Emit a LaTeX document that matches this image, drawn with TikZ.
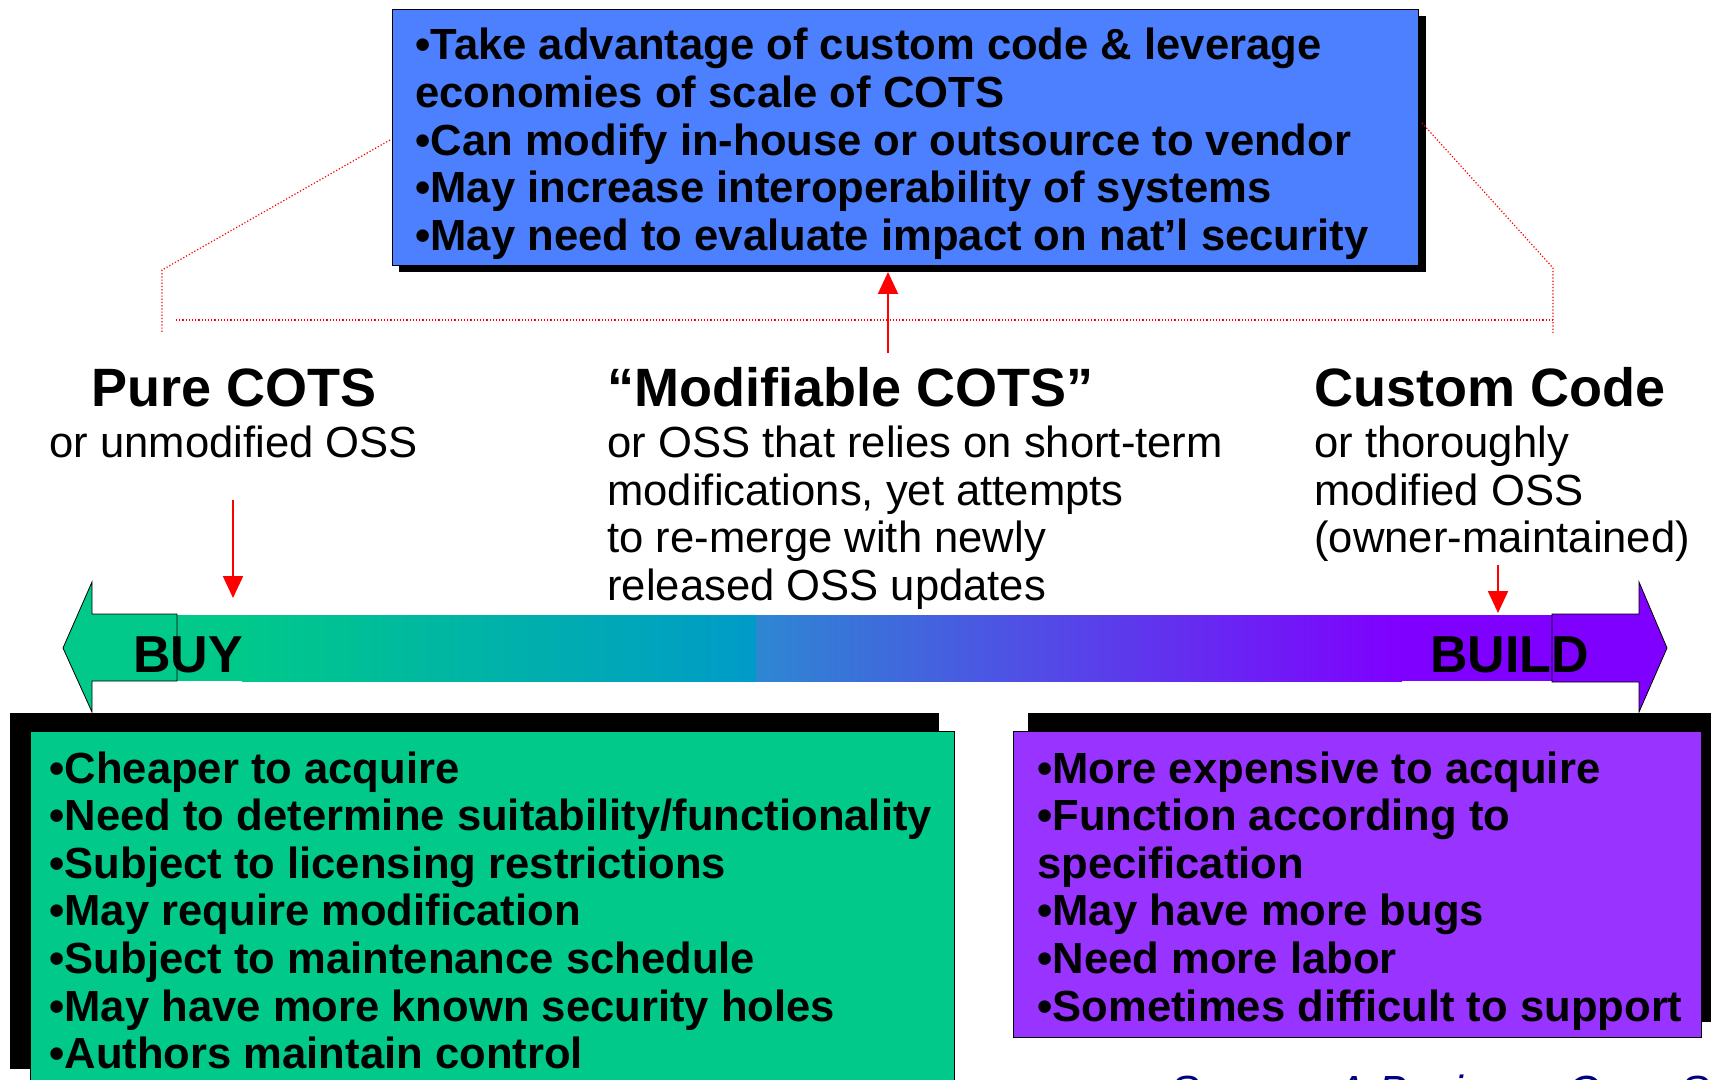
\documentclass[tikz,border=0pt]{standalone}
\usepackage{fontspec}
\setmainfont{Liberation Sans}
\usetikzlibrary{arrows.meta,positioning}

\definecolor{buygreen}{RGB}{0,201,138}
\definecolor{barteal}{RGB}{0,155,200}
\definecolor{barblue}{RGB}{45,135,210}
\definecolor{buildviolet}{RGB}{128,0,255}
\definecolor{buildpurple}{RGB}{153,51,255}
\definecolor{mixblue}{RGB}{77,128,255}
\definecolor{srcblue}{RGB}{0,0,128}

\begin{document}
\begin{tikzpicture}[x=0.5pt,y=-0.5pt,
  every node/.style={inner sep=0pt},
  listtext/.style={anchor=north west,align=left,font=\fontsize{21.8}{23.8}\selectfont\bfseries},
  headtext/.style={anchor=base west,font=\fontsize{27}{30}\selectfont\bfseries},
  subtext/.style={anchor=north west,align=left,font=\fontsize{21.8}{23.7}\selectfont},
  endtext/.style={anchor=base west,font=\fontsize{26}{28}\selectfont\bfseries},
  redarrow/.style={red,line width=1pt,-{Triangle[width=10pt,length=11pt]}},
  reddots/.style={red,line width=0.6pt,densely dotted}]
  \clip (0,0) rectangle (1711,1080);

  % mixed box on top
  \fill (399,16) rectangle (1426,272);
  \node[draw,fill=mixblue,minimum width=513pt,minimum height=128pt] (mix) at (905,137) {};
  \node[listtext] (mixlist) at (415,28) {•Take advantage of custom code \& leverage\\economies of scale of COTS\\•Can modify in-house or outsource to vendor\\•May increase interoperability of systems\\•May need to evaluate impact on nat’l security};

  % dotted bracket
  \coordinate (ltop) at (390,140);
  \coordinate (lknee) at (162,270);
  \coordinate (lfoot) at (162,333);
  \coordinate (rtop) at (1422,123);
  \coordinate (rknee) at (1553,268);
  \coordinate (rfoot) at (1553,333);
  \coordinate (hleft) at (176,320);
  \coordinate (hright) at (1553,320);
  \draw[reddots] (ltop) -- (lknee) -- (lfoot);
  \draw[reddots] (rtop) -- (rknee) -- (rfoot);
  \draw[reddots] (hleft) -- (hright);

  % three choices
  \node[headtext] (pure) at (91,406) {Pure COTS};
  \node[subtext] (puresub) at (49,426) {or unmodified OSS};
  \node[headtext] (modcots) at (607,406) {“Modifiable COTS”};
  \node[subtext] (modsub) at (607,426) {or OSS that relies on short-term\\modifications, yet attempts\\to re-merge with newly\\released OSS updates};
  \node[headtext] (custom) at (1314,406) {Custom Code};
  \node[subtext] (customsub) at (1314,426) {or thoroughly\\modified OSS\\(owner-maintained)};

  % scale bar
  \fill[buygreen] (92,615) rectangle (242,681);
  \shade[left color=buygreen,right color=barteal] (242,615) rectangle (756,681);
  \shade[left color=barblue,right color=buildviolet] (756,615) rectangle (1402,681);
  \fill[buildviolet] (1402,615) rectangle (1639,681);
  \draw[fill=buygreen] (92,582) -- (63,648) -- (92,712) -- (92,681) -- (177,681) -- (177,614) -- (92,614) -- cycle;
  \draw[fill=buildviolet] (1552,614) -- (1639,614) -- (1639,582) -- (1667,648) -- (1639,712) -- (1639,682) -- (1552,682) -- cycle;
  \node[endtext] (buy) at (133,672) {BUY};
  \node[endtext] (build) at (1430,672) {BUILD};

  % red arrows
  \coordinate (midfoot) at (888,353);
  \coordinate (midtip) at (888,272);
  \coordinate (purefoot) at (233,500);
  \coordinate (puretip) at (233,598);
  \coordinate (customfoot) at (1498,565);
  \coordinate (customtip) at (1498,613);
  \draw[redarrow] (midfoot) -- (midtip);
  \draw[redarrow] (purefoot) -- (puretip);
  \draw[redarrow] (customfoot) -- (customtip);

  % buy and build boxes
  \fill (10,713) rectangle (939,1069);
  \draw[fill=buygreen] (30,731) rectangle (954,1095);
  \fill (1028,713) rectangle (1725,1022);
  \draw[fill=buildpurple] (1013,731) rectangle (1701,1037);
  \node[listtext] (buylist) at (49,751) {•Cheaper to acquire\\•Need to determine suitability/functionality\\•Subject to licensing restrictions\\•May require modification\\•Subject to maintenance schedule\\•May have more known security holes\\•Authors maintain control};
  \node[listtext] (buildlist) at (1037,751) {•More expensive to acquire\\•Function according to\\specification\\•May have more bugs\\•Need more labor\\•Sometimes difficult to support};

  \node[anchor=base west,font=\fontsize{21.8}{24}\selectfont\itshape,text=srcblue] (source) at (1170,1106) {Source: A Business Case Study};
\end{tikzpicture}
\end{document}
